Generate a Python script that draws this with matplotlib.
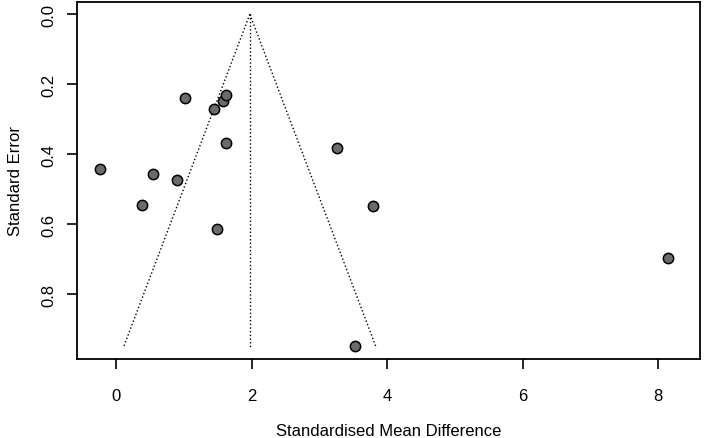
import matplotlib.pyplot as plt
import numpy as np

plt.rcParams['font.family'] = ['Liberation Sans', 'DejaVu Sans']

# study effect sizes (SMD) and their standard errors
smd = [-0.24, 0.54, 0.90, 0.39, 1.02, 1.45, 1.585, 1.62, 1.625, 1.49, 3.26, 3.80, 8.15, 3.53]
se = [0.442, 0.456, 0.473, 0.546, 0.238, 0.271, 0.248, 0.230, 0.369, 0.613, 0.381, 0.548, 0.696, 0.947]
estimate = 1.975
se_max = 0.95
x_ticks = [0, 2, 4, 6, 8]
y_ticks = [0.0, 0.2, 0.4, 0.6, 0.8]

fig = plt.figure(figsize=(7.09, 4.39), dpi=100)
ax = fig.add_axes([77 / 709, 1 - 360 / 439, (700 - 77) / 709, (360 - 3) / 439])

# funnel lines
se_line = np.array([0, se_max])
ax.plot(estimate - 1.96 * se_line, se_line, ':', color='black', lw=1)
ax.plot(estimate + 1.96 * se_line, se_line, ':', color='black', lw=1)
ax.plot([estimate, estimate], se_line, ':', color='black', lw=1)

ax.scatter(smd, se, s=55, facecolor='#6b6b6b', edgecolor='black', linewidth=1.1, zorder=3)

ax.set_xlim(-0.576, 8.62)
ax.set_ylim(0.985, -0.035)
ax.set_xticks(x_ticks)
ax.set_xticklabels([str(t) for t in x_ticks])
ax.set_yticks(y_ticks)
ax.set_yticklabels([f'{t:.1f}' for t in y_ticks], rotation=90, va='center')
ax.tick_params(direction='out', length=7, width=1.2, labelsize=12)
ax.tick_params(axis='x', pad=14)
ax.tick_params(axis='y', pad=8)
for s in ax.spines.values():
    s.set_linewidth(1.3)

ax.set_xlabel('Standardised Mean Difference', fontsize=12, labelpad=14)
ax.set_ylabel('Standard Error', fontsize=12, labelpad=13)

plt.savefig('out.png', dpi=100)
